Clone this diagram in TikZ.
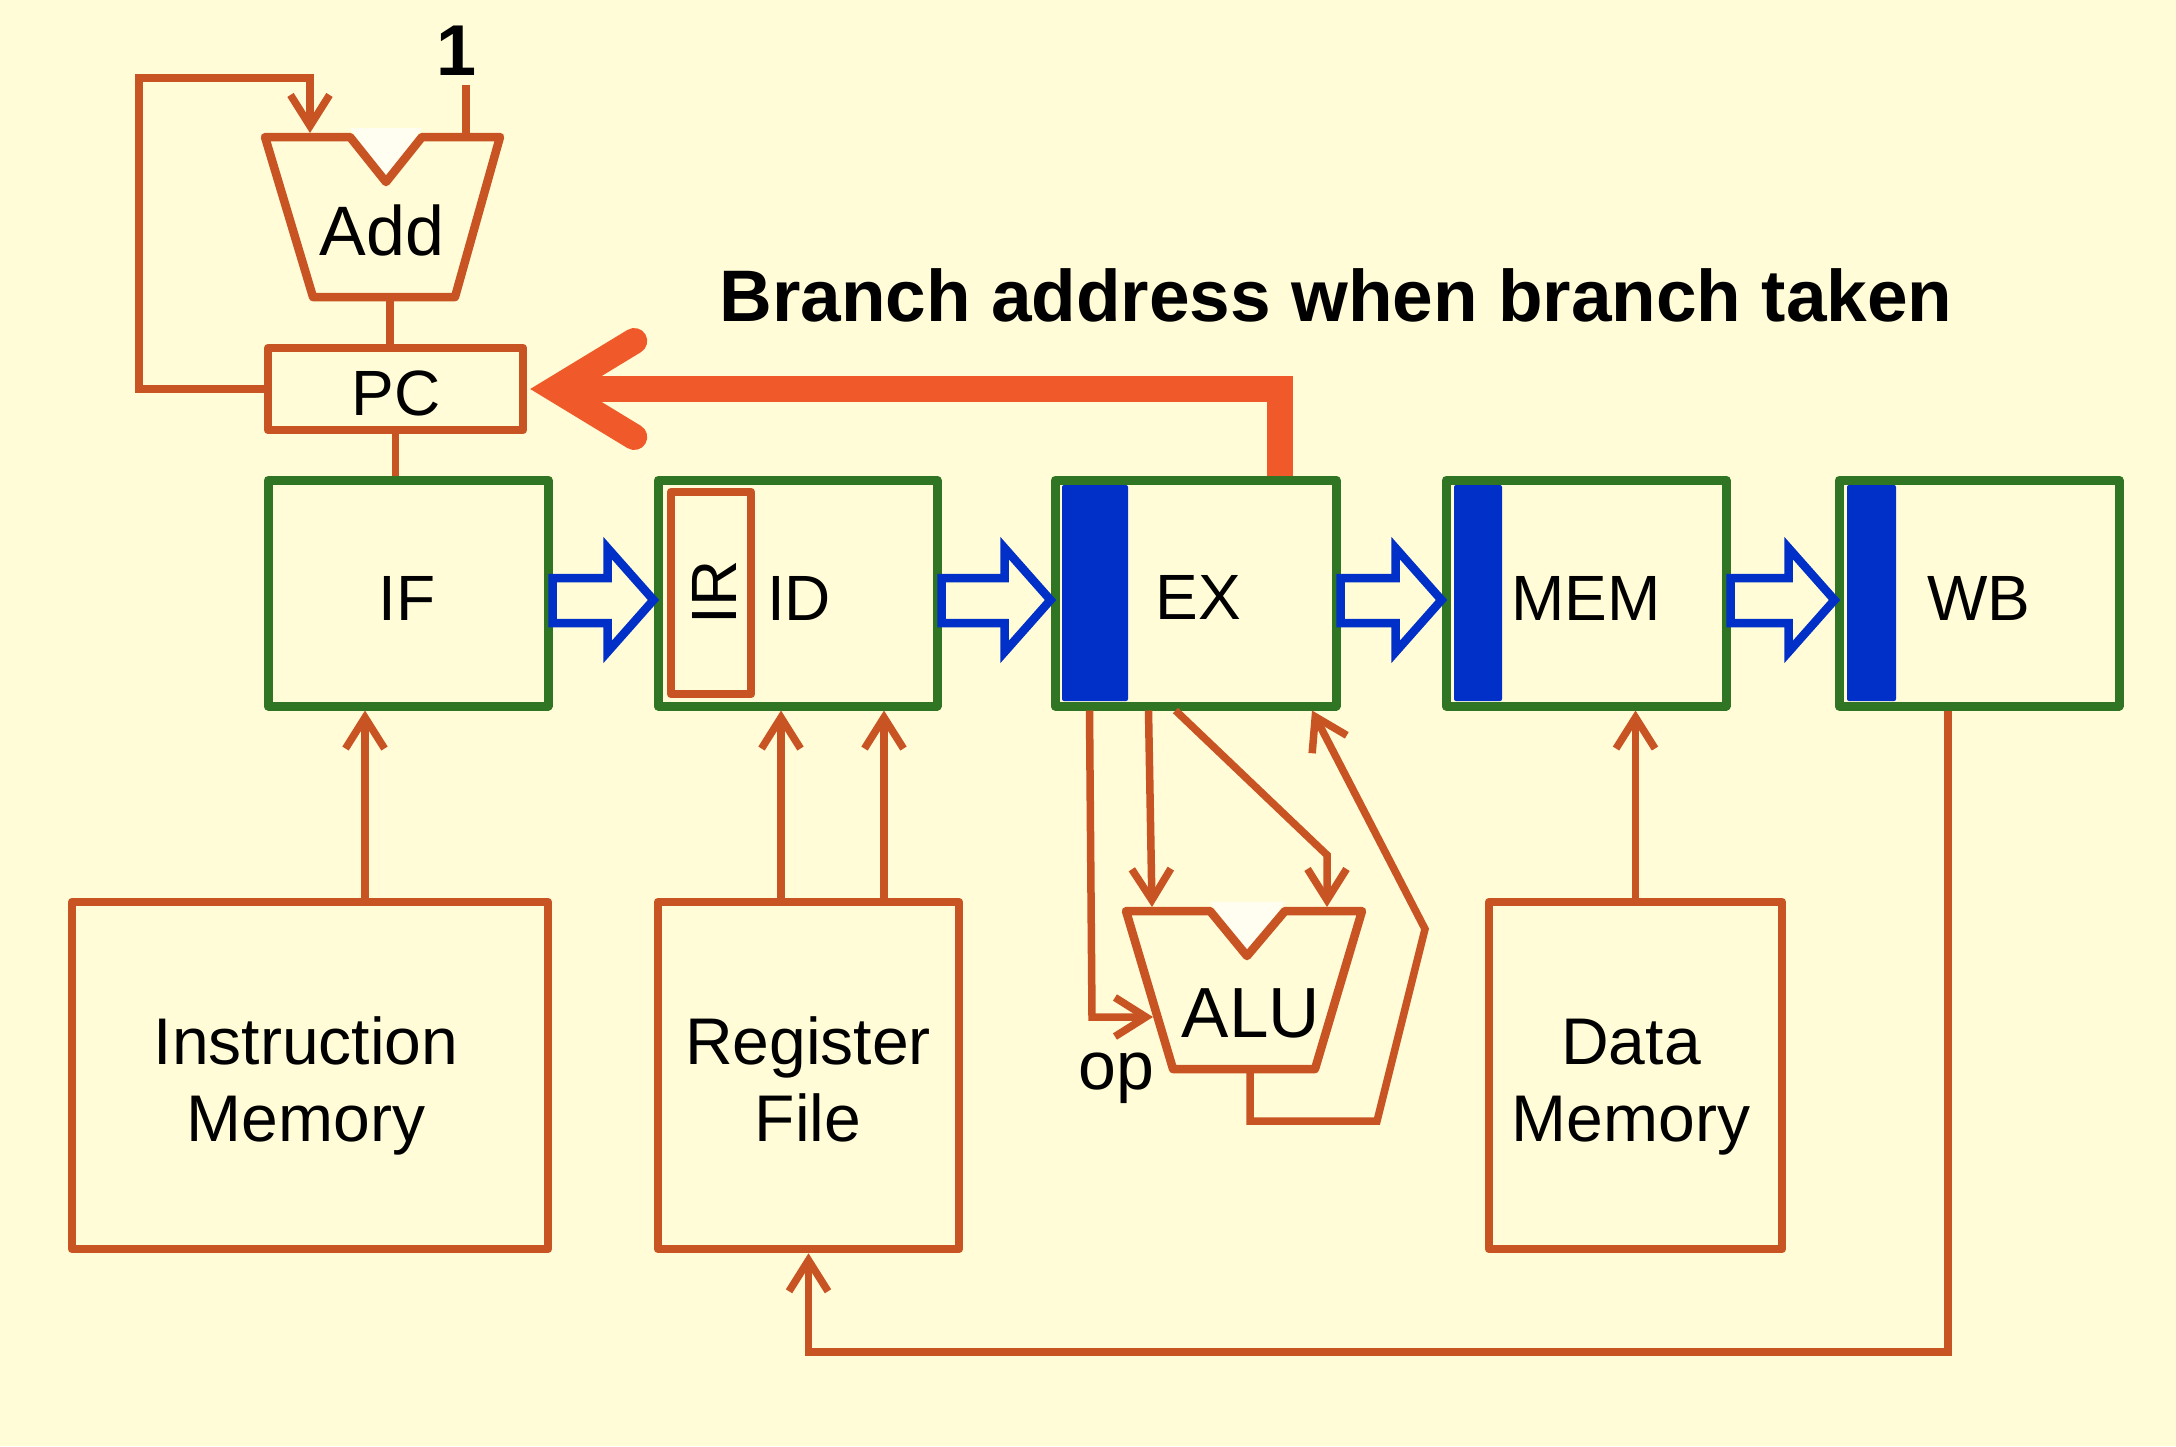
\documentclass[tikz,border=0pt]{standalone}
\usepackage{fontspec}
\setmainfont{Liberation Sans}
\usetikzlibrary{arrows.meta,calc}
\definecolor{bgc}{HTML}{FFFCD7}
\definecolor{org}{HTML}{C85424}
\definecolor{borg}{HTML}{F05A2A}
\definecolor{grn}{HTML}{2F7523}
\definecolor{blu}{HTML}{0030C8}
\definecolor{ntc}{HTML}{FFFEF0}
\newcommand\hollowarr[2]{%
  \draw[hollow] let \p1=(#1.east), \p2=(#2.west) in
    (\x1,578) -- (\x2-46pt,578) -- (\x2-46pt,548) -- (\x2,600) --
    (\x2-46pt,652) -- (\x2-46pt,623) -- (\x1,623) -- cycle;}
\begin{document}
\begin{tikzpicture}[x=1pt,y=-1pt,
  wire/.style={draw=org,line width=7.5pt},
  arr/.style={wire,-{Straight Barb[length=31pt,width=39pt]}},
  stage/.style={draw=grn,line width=9pt,line join=round,fill=bgc,inner sep=0pt},
  obox/.style={draw=org,line width=8.5pt,line join=round,inner sep=0pt},
  hollow/.style={draw=blu,line width=8.5pt,fill=bgc,line join=miter},
  bar/.style={fill=blu,rounded corners=2pt},
  lab/.style={anchor=base,inner sep=0pt,font=\fontsize{64}{77}\selectfont},
  lab2/.style={anchor=base,inner sep=0pt,align=center,font=\fontsize{66}{77}\selectfont},
  bigw/.style={draw=borg,line width=26pt},
]
\fill[bgc] (0,0) rectangle (2176,1446);
\useasboundingbox (0,0) rectangle (2176,1446);

% pipeline stages
\node[stage,minimum width=280pt,minimum height=226pt] (IF)  at (408,593) {};
\node[stage,minimum width=279pt,minimum height=226pt] (ID)  at (797.5,593) {};
\node[stage,minimum width=281pt,minimum height=226pt] (EX)  at (1195.5,593) {};
\node[stage,minimum width=280pt,minimum height=226pt] (MEM) at (1586,593) {};
\node[stage,minimum width=280pt,minimum height=226pt] (WB)  at (1979,593) {};

\fill[bar] (1062,485) rectangle (1128,701);
\fill[bar] (1454,485) rectangle (1502,701);
\fill[bar] (1847,485) rectangle (1896,701);

\node[obox,minimum width=80pt,minimum height=202pt] (IR) at (711,593) {};
\node[lab,rotate=90] (IRl) at (736,592) {IR};

\node[lab] (IFl)  at (407,620) {IF};
\node[lab] (IDl)  at (799,620) {ID};
\node[lab] (EXl)  at (1198,619) {EX};
\node[lab] (MEMl) at (1586,620) {MEM};
\node[lab] (WBl)  at (1979,620) {WB};

\hollowarr{IF}{ID}
\hollowarr{ID}{EX}
\hollowarr{EX}{MEM}
\hollowarr{MEM}{WB}

% bottom units
\node[obox,minimum width=476pt,minimum height=347pt] (IM) at (310,1075.5) {};
\node[obox,minimum width=301pt,minimum height=347pt] (RF) at (808.5,1075.5) {};
\node[obox,minimum width=293pt,minimum height=347pt] (DM) at (1635.5,1075.5) {};
\node[lab2] (IMl) at (306,1141) {Instruction\\Memory};
\node[lab2] (RFl) at (808,1141) {Register\\File};
\node[lab2] (DMl) at (1631,1141) {Data\\Memory};

% PC and adder
\node[obox,minimum width=255pt,minimum height=82pt] (PC) at (395.5,389) {};
\node[lab] (PCl) at (396,415) {PC};
\fill[ntc] (350,128) -- (422,128) -- (386,180) -- cycle;
\draw[wire,line width=8.5pt,line join=round] (265,137) -- (350,137) -- (386,182) -- (422,137)
  -- (500,137) -- (455,297) -- (313,297) -- cycle;
\node[anchor=base,inner sep=0pt,font=\fontsize{70}{84}\selectfont] (Addl) at (382,255) {Add};
\coordinate (addL) at (310,133);
\coordinate (addR) at (466,137);
\coordinate (addout) at (390,297);
\node[anchor=base,inner sep=0pt,font=\fontsize{72}{84}\selectfont\bfseries] (one) at (457,75) {1};

\coordinate (lp1) at (139,389);
\coordinate (lp2) at (139,78);
\coordinate (lp3) at (310,78);
\draw[arr] (PC.west) -- (lp1) -- (lp2) -- (lp3) -- (addL);
\draw[wire] ([yshift=-10pt]one.south -| addR) -- (addR);
\draw[wire] (addout) -- (addout |- PC.north);
\draw[wire] (PC.south) -- (PC.south |- IF.north);

% ALU
\fill[ntc] (1210,902) -- (1285,902) -- (1247,953) -- cycle;
\draw[wire,line width=8.5pt,line join=round] (1126,911) -- (1210,911) -- (1247,956) -- (1285,911)
  -- (1362,911) -- (1315,1069) -- (1173,1069) -- cycle;
\node[anchor=base,inner sep=0pt,font=\fontsize{71}{84}\selectfont] (ALUl) at (1251,1037) {ALU};
\node[anchor=base,inner sep=0pt,font=\fontsize{68}{84}\selectfont] (opl) at (1116,1089) {op};
\coordinate (aluop) at (1153,1017);
\coordinate (aluA) at (1152,907);
\coordinate (aluB) at (1327,907);
\coordinate (aluout) at (1250,1069);

\coordinate (e1) at ($(EX.south)+(-106,0)$);
\coordinate (e2) at ($(EX.south)+(-47,0)$);
\coordinate (e3) at ($(EX.south)+(-20,0)$);
\coordinate (e4) at ($(EX.south)+(116.5,0)$);
\coordinate (c1) at (1092,1017);
\coordinate (c3) at (1327,855);
\coordinate (c4) at (1250,1121);
\coordinate (c5) at (1377,1121);
\coordinate (c6) at (1425,929);
\draw[arr] (e1) -- (c1) -- (aluop);
\draw[arr] (e2) -- (aluA);
\draw[arr] (e3) -- (c3) -- (aluB);
\draw[arr] (aluout) -- (c4) -- (c5) -- (c6) -- (e4);

% memory connections
\coordinate (m1) at ($(IM.north)+(55,0)$);
\draw[arr] (m1) -- (m1 |- IF.south);
\coordinate (r1) at ($(RF.north)+(-27.5,0)$);
\coordinate (r2) at ($(RF.north)+(75.5,0)$);
\draw[arr] (r1) -- (r1 |- ID.south);
\draw[arr] (r2) -- (r2 |- ID.south);
\draw[arr] (DM.north) -- (DM.north |- MEM.south);
\coordinate (w1) at ($(WB.south)+(-31,0)$);
\coordinate (wbb) at (1948,1352);
\draw[arr] (w1) -- (wbb) -| (RF.south);

% branch path
\coordinate (b1) at ($(EX.north)+(84.5,0)$);
\coordinate (btip) at ($(PC.east)+(28,0)$);
\coordinate (bh1) at ($(PC.east)+(107,-48)$);
\coordinate (bh2) at ($(PC.east)+(107,48)$);
\draw[bigw,line join=miter] (b1) |- (btip);
\draw[bigw,line join=miter,line cap=round] (bh1) -- (btip) -- (bh2);
\node[anchor=base,inner sep=0pt,font=\fontsize{73}{88}\selectfont\bfseries] (title) at (1336,321)
  {Branch address when branch taken};
\end{tikzpicture}
\end{document}
